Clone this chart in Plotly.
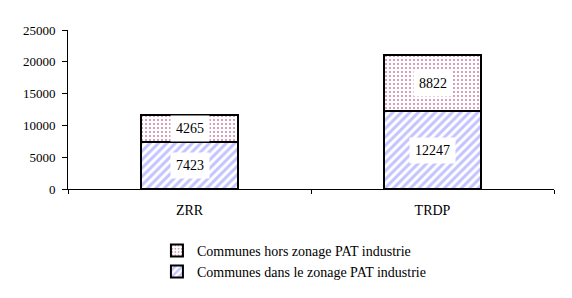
import plotly.graph_objects as go

categories = ["ZRR", "TRDP"]
dans_zonage = [7423, 12247]
hors_zonage = [4265, 8822]
series_names = ["Communes dans le zonage PAT industrie", "Communes hors zonage PAT industrie"]
y_ticks = [0, 5000, 10000, 15000, 20000, 25000]
y_tick_labels = ["0", "5000", "10000", "15000", "20000", "25000"]

FONT = "Liberation Serif, Times New Roman, serif"

fig = go.Figure()
fig.add_trace(go.Bar(
    x=categories, y=dans_zonage, name=series_names[0], legendgroup="a",
    marker=dict(color="white", line=dict(color="black", width=2),
                pattern=dict(shape="/", fgcolor="#8888ff", bgcolor="white", size=6, solidity=0.5)),
    width=0.4,
))
fig.add_trace(go.Bar(
    x=categories, y=hors_zonage, name=series_names[1], legendgroup="b",
    marker=dict(color="white", line=dict(color="black", width=2),
                pattern=dict(shape=".", fgcolor="#990044", bgcolor="white", size=4, solidity=0.2)),
    width=0.4,
))

for i, c in enumerate(categories):
    fig.add_annotation(x=c, y=dans_zonage[i] / 2, text=str(dans_zonage[i]), showarrow=False,
                       bgcolor="white", borderpad=5, font=dict(family=FONT, size=14, color="black"))
    fig.add_annotation(x=c, y=dans_zonage[i] + hors_zonage[i] / 2, text=str(hors_zonage[i]), showarrow=False,
                       bgcolor="white", borderpad=5, font=dict(family=FONT, size=14, color="black"))

fig.update_layout(
    barmode="stack",
    width=572, height=298,
    margin=dict(l=68, r=18, t=30, b=108),
    paper_bgcolor="white", plot_bgcolor="white",
    font=dict(family=FONT, size=13, color="black"),
    showlegend=True,
    legend=dict(x=0.183, y=-0.28, xanchor="left", yanchor="top", traceorder="reversed",
                tracegroupgap=6, font=dict(family=FONT, size=14, color="black"),
                bgcolor="rgba(0,0,0,0)"),
    xaxis=dict(showline=True, linecolor="black", linewidth=1, ticks="outside", tickson="boundaries",
               ticklen=4, tickcolor="black", showgrid=False, ticklabelstandoff=8,
               tickfont=dict(family=FONT, size=14)),
    yaxis=dict(range=[0, 25000], tickvals=y_ticks, ticktext=y_tick_labels, showline=True,
               linecolor="black", linewidth=1, ticks="outside", ticklen=5, tickcolor="black",
               showgrid=False, zeroline=False, ticklabelstandoff=4, tickfont=dict(family=FONT, size=13)),
)

fig.write_html("out.html")
